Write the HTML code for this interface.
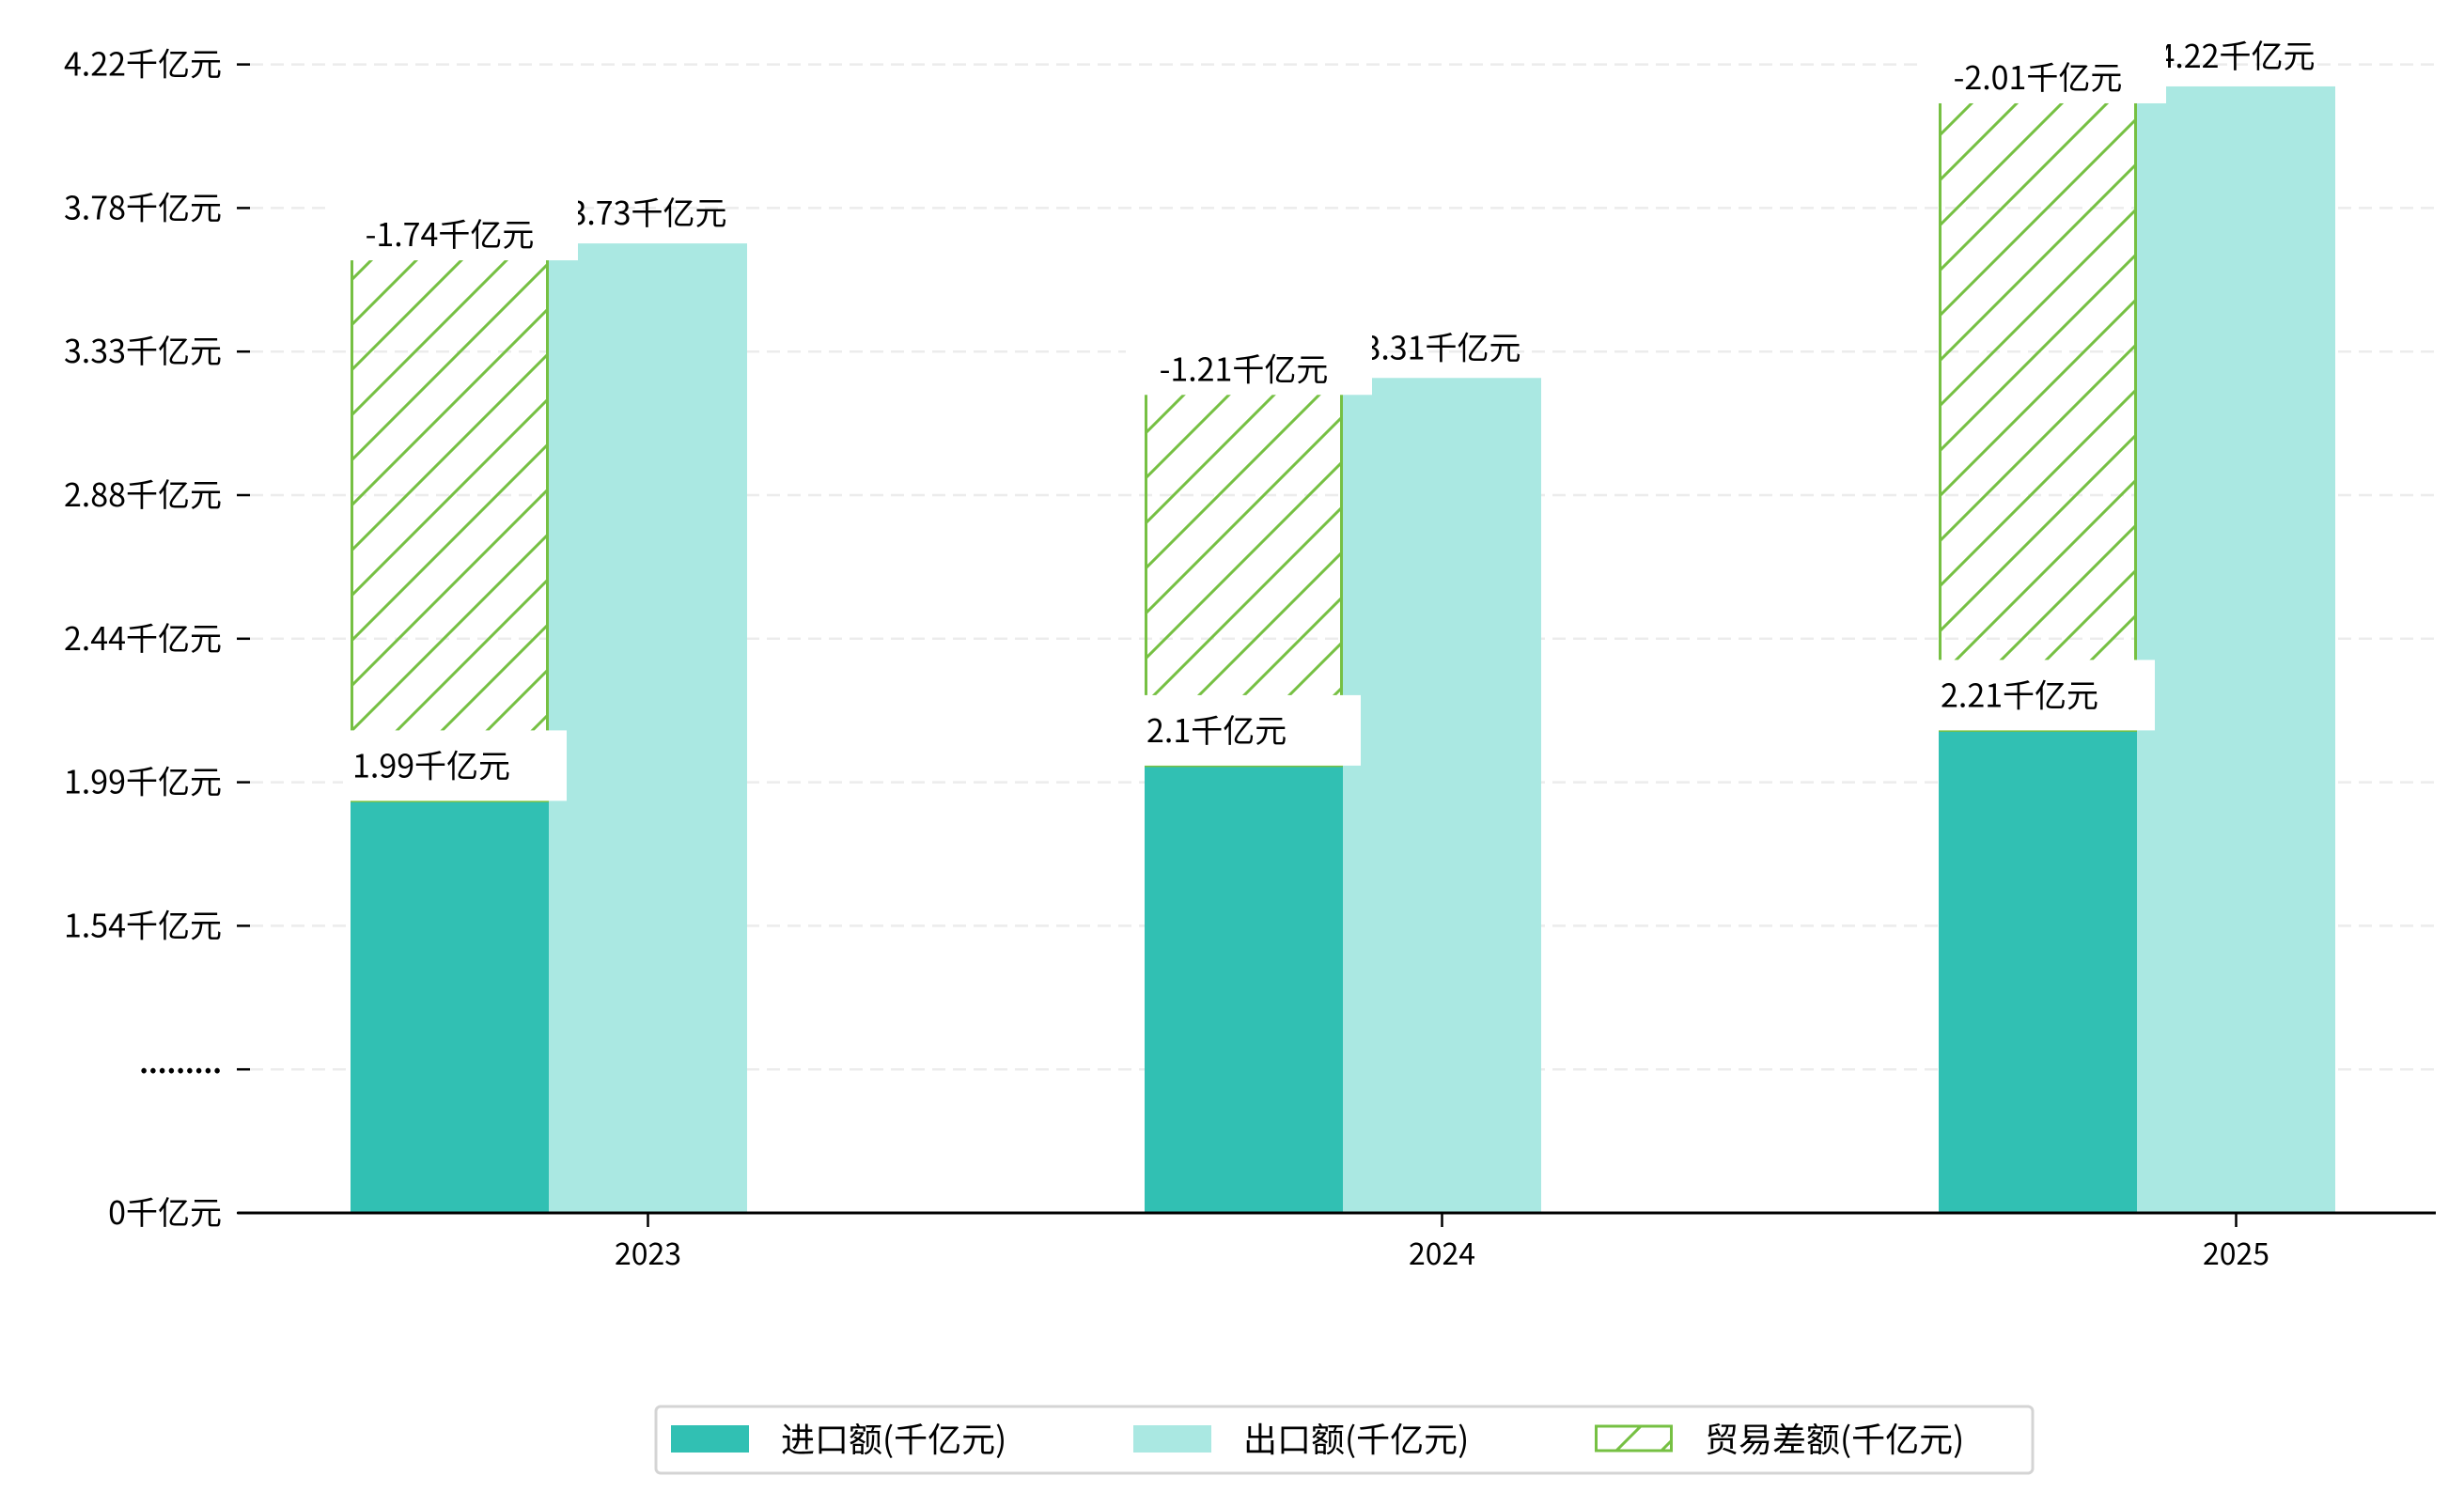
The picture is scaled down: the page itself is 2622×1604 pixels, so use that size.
<!DOCTYPE html>
<html><head><meta charset="utf-8"><style>
html,body{margin:0;padding:0;background:#fff;}
svg text{font-family:"WenQuanYi Zen Hei","Noto Sans CJK SC",sans-serif;}
</style></head><body>
<svg id="chart" width="2622" height="1599" viewBox="0 0 2622 1599" xmlns="http://www.w3.org/2000/svg">
<defs>
<pattern id="hatch" patternUnits="userSpaceOnUse" width="48" height="48">
<path d="M-12,12 L12,-12 M0,48 L48,0 M36,60 L60,36" stroke="#76c043" stroke-width="3"/>
</pattern>
</defs>
<g id="grid"></g><g id="bars"></g><g id="labels"></g><g id="axes"></g>
</svg>
<script>
const categories = ["2023","2024","2025"];
const importVals = [1.99, 2.1, 2.21];
const exportVals = [3.73, 3.31, 4.22];
const balanceVals = [-1.74, -1.21, -2.01];
const tickLabels = ["0千亿元",".........","1.54千亿元","1.99千亿元","2.44千亿元","2.88千亿元","3.33千亿元","3.78千亿元","4.22千亿元"];

const NS="http://www.w3.org/2000/svg";
const Y0=1291, K=341, OFF=240;
function y(v){return Y0-(v*K-OFF);}
function h(v){return v*K-OFF;}
function xc(i){return 584+i*845;}
const BW=211, TICKSTEP=152.8;
function mk(tag,attrs,parent){const e=document.createElementNS(NS,tag);for(const k in attrs)e.setAttribute(k,attrs[k]);parent.appendChild(e);return e;}
const grid=document.getElementById('grid'),bars=document.getElementById('bars'),labels=document.getElementById('labels'),axes=document.getElementById('axes');

tickLabels.forEach((t,i)=>{
  const ty=Y0-i*TICKSTEP;
  if(i>0){const g=mk('line',{x1:266,x2:2592,y1:ty,y2:ty,stroke:'#ececec','stroke-width':2.5,'stroke-dasharray':'14,8'},grid);
  
  }
  const tm=mk('line',{x1:252,x2:266,y1:ty,y2:ty,stroke:'#000','stroke-width':2.5},axes);
  
  
  const tx=mk('text',{x:236,y:ty+12,'text-anchor':'end','font-size':34,fill:'#000'},axes);
  if(i===1){tx.setAttribute('font-weight','bold');tx.setAttribute('y',ty+4);tx.setAttribute('font-size',30);}
  tx.textContent=t;
  
  
});

categories.forEach((c,i)=>{
  const cx=xc(i);
  const iv=importVals[i],ev=exportVals[i],bv=balanceVals[i];
  const ib=mk('rect',{x:cx-BW,y:y(iv),width:BW,height:h(iv),fill:'#31c0b3'},bars);
  
  
  const eb=mk('rect',{x:cx,y:y(ev),width:BW,height:h(ev),fill:'#aae8e2'},bars);
  
  
  const bh=Math.abs(bv)*K;
  const hb=mk('rect',{x:cx-BW+1.5,y:y(iv)-bh,width:BW-3,height:bh,fill:'url(#hatch)',stroke:'#76c043','stroke-width':3},bars);
  
  
  const et=mk('text',{x:cx+BW/2,y:y(ev)-20,'text-anchor':'middle','font-size':34,fill:'#000'},labels);
  et.textContent=ev+'千亿元';
  
  
  const bt=y(iv)-bh;
  const bbx=mk('rect',{x:cx-BW-20,y:bt-48,width:262,height:66,fill:'#fff'},labels);
  
  
  const btx=mk('text',{x:cx-BW/2,y:bt+3,'text-anchor':'middle','font-size':34,fill:'#000'},labels);
  btx.textContent=bv+'千亿元';
  
  
  const it=y(iv);
  const ibx=mk('rect',{x:cx-BW-8,y:it-75,width:238,height:75,fill:'#fff'},labels);
  
  
  const itx=mk('text',{x:cx-BW+2,y:it-25,'text-anchor':'start','font-size':34,fill:'#000'},labels);
  itx.textContent=iv+'千亿元';
  
  
  const xt=mk('line',{x1:cx+BW/2,x2:cx+BW/2,y1:Y0,y2:Y0+15,stroke:'#000','stroke-width':2.5},axes);
  
  
  const xl=mk('text',{x:cx+BW/2,y:Y0+55,'text-anchor':'middle','font-size':32,fill:'#000'},axes);
  xl.textContent=c;
  
  
});
const ax=mk('line',{x1:253,x2:2592,y1:Y0,y2:Y0,stroke:'#000','stroke-width':3},axes);



const lg=mk('g',{},document.getElementById('chart'));


mk('rect',{x:698,y:1497,width:1465,height:71,rx:5,fill:'#fff',stroke:'#d4d4d4','stroke-width':3},lg);
const entries=[["进口额(千亿元)","#31c0b3",714],["出口额(千亿元)","#aae8e2",1206],["贸易差额(千亿元)","hatch",1697]];
entries.forEach(e=>{
  let r;
  if(e[1]==="hatch"){r=mk('rect',{x:e[2]+1.5,y:1518,width:80,height:26,fill:'url(#hatch)',stroke:'#76c043','stroke-width':3},lg);}
  else r=mk('rect',{x:e[2],y:1517,width:83,height:29,fill:e[1]},lg);
  
  
  const t=mk('text',{x:e[2]+117,y:1545,'font-size':36,fill:'#000'},lg);
  t.textContent=e[0];
  
  
});
</script>
</body></html>
